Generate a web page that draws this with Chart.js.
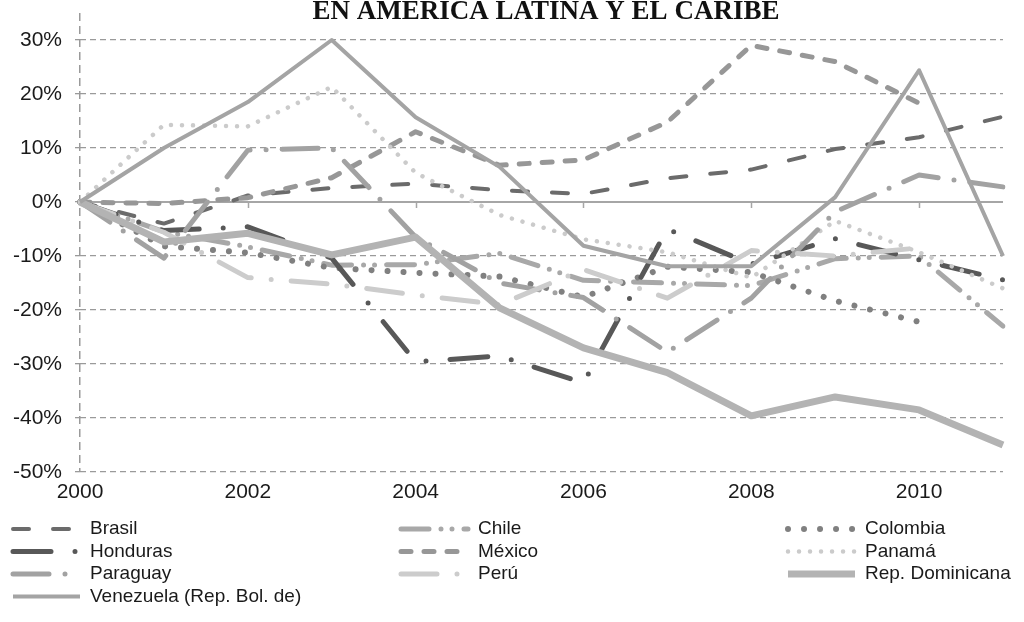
<!DOCTYPE html>
<html>
<head>
<meta charset="utf-8">
<script src="https://cdn.jsdelivr.net/npm/chart.js@4"></script>
<style>
  html, body { margin: 0; padding: 0; background: #fff; }
  #wrap { width: 1024px; height: 622px; }
</style>
</head>
<body>
<div id="wrap"><canvas id="grafico" width="1024" height="622"></canvas></div>
<script>
// datos (variacion acumulada desde 2000)
const anios = ['2000','2001','2002','2003','2004','2005','2006','2007','2008','2009','2010','2011'];
const yTicks = [-50, -40, -30, -20, -10, 0, 10, 20, 30];

const brasil    = [0, -4, 1.2, 2.6, 3.4, 2.2, 1.5, 4.4, 6, 9.8, 12, 15.8];
const chile     = [0, -5.5, -8.3, -11.7, -11.6, -9.5, -14.5, -15, -15.5, -10.5, -10, -23];
const colombia  = [0, -8.2, -9.4, -12.2, -13.1, -13.8, -17.6, -12, -13, -18.3, -22.2, null];
const honduras  = [0, -5.3, -4.6, -10.4, -29.6, -28.5, -33.5, -5, -11.5, -6.8, -10.7, -14.4];
const mexico    = [0, -0.3, 0.8, 4.5, 13, 6.8, 7.8, 14.8, 29, 26, 18.3, null];
const panama    = [0, 14.3, 14, 21.3, 5.4, -2.4, -6.9, -9.3, -14, -3.5, -9.3, -16];
const paraguay  = [0, -10.4, 9.6, 10, -6.5, -15, -17.7, -27.8, -17.8, -1.8, 5, 2.8];
const peru      = [0, -5.6, -14, -15.2, -17.2, -19, -12.5, -17.8, -9, -10, -8.5, null];
const repDom    = [0, -7.4, -5.8, -9.8, -6.5, -19.6, -27, -31.6, -39.6, -36.1, -38.5, -45];
const venezuela = [0, 10, 18.5, 30, 15.7, 6.5, -8.1, -11.9, -11.9, 0.9, 24.4, -10];

const titulo = 'EN AMÉRICA LATINA Y EL CARIBE';
const FUENTE = "'Liberation Sans', Arial, sans-serif";

function serie(label, data, color, width, dash, cap) {
  return {
    label: label,
    data: data,
    borderColor: color,
    backgroundColor: color,
    borderWidth: width,
    borderDash: dash,
    borderCapStyle: cap || 'round',
    borderJoinStyle: 'round',
    pointRadius: 0,
    pointHoverRadius: 0,
    tension: 0,
    fill: false
  };
}

const datasets = [
  serie('Brasil', brasil, '#6b6b6b', 4, [16, 24]),
  serie('Chile', chile, '#a8a8a8', 5, [28, 12, 0, 11, 0, 12]),
  serie('Colombia', colombia, '#808080', 6, [0.01, 16]),
  serie('Honduras', honduras, '#585858', 5, [38, 24, 0, 24]),
  serie('México', mexico, '#979797', 5, [10, 13]),
  serie('Panamá', panama, '#cbcbcb', 4.5, [0.01, 11]),
  serie('Paraguay', paraguay, '#a2a2a2', 5, [36, 16, 0, 16]),
  serie('Perú', peru, '#cccccc', 5, [36, 20, 0, 20]),
  serie('Rep. Dominicana', repDom, '#b3b3b3', 7, [], 'butt'),
  serie('Venezuela (Rep. Bol. de)', venezuela, '#a4a4a4', 4, [], 'butt')
];
// Excel dibuja la ultima serie encima
datasets.forEach((d, i) => { d.order = datasets.length - i; });

// linea del cero, marcas del eje de categorias, titulo y leyenda
const extras = {
  id: 'extras',
  beforeDatasetsDraw(chart) {
    const ctx = chart.ctx;
    const x = chart.scales.x;
    const y = chart.scales.y;
    const y0 = y.getPixelForValue(0);
    ctx.save();
    ctx.strokeStyle = '#a6a6a6';
    ctx.lineWidth = 2;
    ctx.beginPath();
    ctx.moveTo(chart.chartArea.left, y0);
    ctx.lineTo(chart.chartArea.right, y0);
    ctx.stroke();
    ctx.lineWidth = 1.5;
    anios.forEach((a, i) => {
      if (i % 2 === 0 && i > 0) {
        const px = Math.round(x.getPixelForValue(i)) + 0.5;
        ctx.beginPath();
        ctx.moveTo(px, y0);
        ctx.lineTo(px, y0 + 6);
        ctx.stroke();
      }
    });
    ctx.restore();
  },
  afterDraw(chart) {
    const ctx = chart.ctx;
    ctx.save();
    ctx.fillStyle = '#111';
    ctx.font = "bold 27px 'Liberation Serif', 'Times New Roman', serif";
    ctx.textAlign = 'center';
    ctx.textBaseline = 'alphabetic';
    ctx.fillText(titulo, 546, 19);

    const colX = [10, 398, 785];
    const filaY = [529, 551.5, 574, 596.5];
    ctx.font = '19px ' + FUENTE;
    ctx.textAlign = 'left';
    ctx.textBaseline = 'middle';
    chart.data.datasets.forEach((ds, i) => {
      const cx = colX[i % 3];
      const cy = filaY[Math.floor(i / 3)];
      ctx.strokeStyle = ds.borderColor;
      ctx.lineWidth = ds.borderWidth;
      ctx.lineCap = ds.borderCapStyle;
      ctx.setLineDash(ds.borderDash);
      ctx.beginPath();
      ctx.moveTo(cx + 3, cy);
      ctx.lineTo(cx + 70, cy);
      ctx.stroke();
      ctx.setLineDash([]);
      ctx.fillStyle = '#1a1a1a';
      ctx.fillText(ds.label, cx + 80, cy);
    });
    ctx.restore();
  }
};

const ctx = document.getElementById('grafico').getContext('2d');
const grafico = new Chart(ctx, {
  type: 'line',
  data: { labels: anios, datasets: datasets },
  plugins: [extras],
  options: {
    responsive: false,
    animation: false,
    devicePixelRatio: 1,
    layout: { padding: { top: 13, right: 21, left: 0, bottom: 0 } },
    plugins: {
      legend: { display: false },
      title: { display: false },
      tooltip: { enabled: false }
    },
    scales: {
      x: {
        offset: false,
        afterFit: (s) => { s.height = 150; s.paddingLeft = 0; s.paddingRight = 0; },
        border: { display: false, dash: [8, 5] },
        grid: {
          drawTicks: false,
          lineWidth: 1.5,
          color: (c) => c.index === 0 ? '#9a9a9a' : 'transparent'
        },
        ticks: {
          autoSkip: false,
          maxRotation: 0,
          padding: 8,
          color: '#1a1a1a',
          font: { family: FUENTE, size: 21 },
          callback: function (v, i) { return i % 2 === 0 ? anios[i] : ''; }
        }
      },
      y: {
        min: -50,
        max: 35,
        afterFit: (s) => { s.width = 80; s.paddingTop = 0; s.paddingBottom = 0; },
        afterBuildTicks: (s) => { s.ticks = yTicks.map(v => ({ value: v })); },
        border: { display: false, dash: [6, 4] },
        grid: {
          lineWidth: 1.3,
          tickLength: 5,
          tickBorderDash: [],
          tickColor: '#9a9a9a',
          tickWidth: 1.3,
          color: (c) => c.tick && c.tick.value === 0 ? 'transparent' : '#9a9a9a'
        },
        ticks: {
          padding: 13,
          color: '#1a1a1a',
          font: { family: FUENTE, size: 21 },
          callback: (v) => v + '%'
        }
      }
    }
  }
});
</script>
</body>
</html>
